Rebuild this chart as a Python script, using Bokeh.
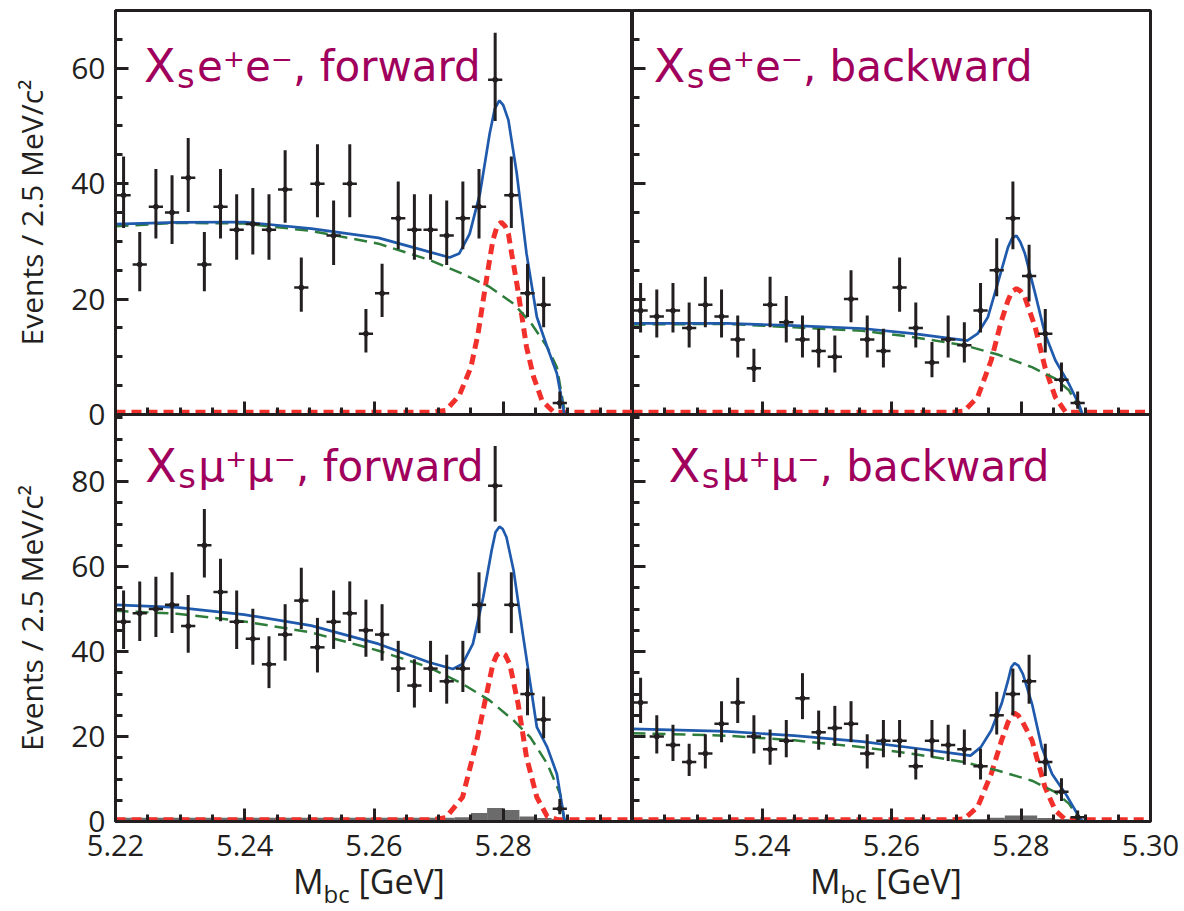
import math
from bokeh.plotting import figure
from bokeh.models import (Range1d, FixedTicker, PrintfTickFormatter,
                          CustomJSTickFormatter, Label, Div)
from bokeh.layouts import row, column
from bokeh.embed import file_html
from bokeh.resources import INLINE

# ---------------- data ----------------
M_BINS = [5.22125, 5.22375, 5.22625, 5.22875, 5.23125, 5.23375, 5.23625,
          5.23875, 5.24125, 5.24375, 5.24625, 5.24875, 5.25125, 5.25375,
          5.25625, 5.25875, 5.26125, 5.26375, 5.26625, 5.26875, 5.27125,
          5.27375, 5.27625, 5.27875, 5.28125, 5.28375, 5.28625, 5.28875]

EE_FWD = [38, 26, 36, 35, 41, 26, 36, 32, 33, 32, 39, 22, 40, 31, 40, 14,
          21, 34, 32, 32, 31, 34, 36, 58, 38, 21, 19, 2]
EE_BWD = [18, 17, 18, 15, 19, 17, 13, 8, 19, 16, 13, 11, 10, 20, 13, 11,
          22, 15, 9, 13, 12, 18, 25, 34, 24, 14, 6, 2]
MM_FWD = [47, 49, 50, 51, 46, 65, 54, 47, 43, 37, 44, 52, 41, 47, 49, 45,
          44, 36, 32, 36, 33, 36, 51, 79, 51, 30, 24, 3]
MM_BWD = [28, 20, 18, 14, 16, 23, 28, 20, 17, 19, 29, 21, 22, 23, 16, 19,
          19, 13, 19, 18, 17, 13, 25, 30, 33, 14, 7, 1]

# total fit (blue)
EE_FWD_TOT_M = [5.2200, 5.2295, 5.2399, 5.2503, 5.2607, 5.2659, 5.2717, 5.2732,
                5.2748, 5.2764, 5.2779, 5.2787, 5.2794, 5.2800, 5.2808, 5.2821,
                5.2836, 5.2852, 5.2868, 5.2883, 5.2894, 5.2896]
EE_FWD_TOT = [33.0, 33.3, 33.35, 32.2, 30.6, 29.0, 27.2, 27.9, 31.3, 38.3,
              48.7, 53.0, 54.4, 53.6, 51.0, 41.7, 27.9, 16.9, 11.7, 7.1, 0.4,
              0.0]
EE_BWD_TOT_M = [5.2200, 5.2346, 5.2450, 5.2555, 5.2634, 5.2717, 5.2733, 5.2749,
                5.2764, 5.2780, 5.2786, 5.2793, 5.2799, 5.2806, 5.2822, 5.2837,
                5.2853, 5.2874, 5.2890, 5.2895]
EE_BWD_TOT = [15.8, 15.8, 15.4, 14.9, 14.0, 12.8, 14.0, 16.9, 22.7, 29.0,
              30.5, 31.0, 29.9, 27.9, 20.9, 14.0, 9.4, 5.3, 1.6, 0.0]
MM_FWD_TOT_M = [5.2200, 5.2295, 5.2399, 5.2503, 5.2607, 5.2685, 5.2722, 5.2737,
                5.2753, 5.2769, 5.2782, 5.2788, 5.2794, 5.2799, 5.2805, 5.2816,
                5.2831, 5.2852, 5.2868, 5.2883, 5.2894, 5.2896]
MM_FWD_TOT = [51.0, 50.4, 48.7, 46.1, 41.8, 37.5, 35.9, 37.1, 41.8, 52.8,
              63.8, 68.1, 69.4, 68.9, 66.9, 59.1, 43.4, 22.2, 17.5, 11.2, 1.0,
              0.0]
MM_BWD_TOT_M = [5.2200, 5.2346, 5.2450, 5.2555, 5.2634, 5.2722, 5.2738, 5.2754,
                5.2770, 5.2780, 5.2785, 5.2790, 5.2796, 5.2803, 5.2817, 5.2832,
                5.2848, 5.2869, 5.2890, 5.2895]
MM_BWD_TOT = [21.8, 21.2, 20.2, 18.8, 17.3, 15.5, 17.5, 21.4, 27.7, 33.2,
              36.3, 37.3, 36.7, 34.7, 27.7, 17.5, 11.2, 6.5, 1.0, 0.0]

# background (green dashed)
EE_FWD_BKG_M = [5.2200, 5.2295, 5.2399, 5.2503, 5.2607, 5.2685, 5.2737, 5.2779,
                5.2816, 5.2842, 5.2868, 5.2883, 5.2892, 5.2896]
EE_FWD_BKG = [32.6, 33.2, 33.1, 31.8, 29.6, 26.8, 24.4, 22.1, 19.2, 16.0,
              11.7, 8.2, 2.4, 0.0]
EE_BWD_BKG_M = [5.2200, 5.2346, 5.2450, 5.2555, 5.2634, 5.2712, 5.2764, 5.2817,
                5.2853, 5.2874, 5.2890, 5.2895]
EE_BWD_BKG = [15.6, 15.7, 15.1, 14.5, 13.4, 12.0, 10.4, 8.2, 6.2, 4.2, 1.0, 0.0]
MM_FWD_BKG_M = [5.2200, 5.2295, 5.2399, 5.2503, 5.2607, 5.2685, 5.2737, 5.2779,
                5.2816, 5.2842, 5.2868, 5.2888, 5.2894, 5.2896]
MM_FWD_BKG = [49.6, 48.9, 47.1, 44.5, 40.2, 36.3, 32.4, 28.5, 23.8, 19.8,
              13.6, 6.5, 0.6, 0.0]
MM_BWD_BKG_M = [5.2200, 5.2346, 5.2450, 5.2555, 5.2634, 5.2712, 5.2764, 5.2817,
                5.2853, 5.2874, 5.2890, 5.2895]
MM_BWD_BKG = [20.8, 20.2, 19.1, 17.5, 15.9, 14.0, 12.0, 9.6, 6.9, 4.2, 0.6, 0.0]

# signal (red dotted)
EE_FWD_SIG_M = [5.2200, 5.2690, 5.2711, 5.2732, 5.2750, 5.2761, 5.2769, 5.2777,
                5.2784, 5.2791, 5.2797, 5.2803, 5.2808, 5.2813, 5.2821, 5.2829,
                5.2836, 5.2847, 5.2860, 5.2878, 5.3000]
EE_FWD_SIG = [0.4, 0.4, 0.7, 3.3, 8.2, 14.0, 19.8, 25.5, 30.2, 32.8, 33.3,
              32.6, 31.3, 27.9, 22.7, 16.9, 11.7, 6.5, 2.4, 0.4, 0.4]
EE_BWD_SIG_M = [5.2200, 5.2695, 5.2712, 5.2733, 5.2754, 5.2770, 5.2780, 5.2786,
                5.2793, 5.2799, 5.2806, 5.2822, 5.2837, 5.2853, 5.2869, 5.3000]
EE_BWD_SIG = [0.4, 0.4, 0.6, 3.0, 9.4, 16.3, 19.8, 21.3, 21.8, 21.4, 20.3,
              15.1, 8.2, 3.0, 0.4, 0.4]
MM_FWD_SIG_M = [5.2200, 5.2690, 5.2711, 5.2737, 5.2758, 5.2771, 5.2784, 5.2790,
                5.2797, 5.2803, 5.2810, 5.2823, 5.2836, 5.2852, 5.2868, 5.2885,
                5.3000]
MM_FWD_SIG = [0.4, 0.4, 0.9, 5.7, 18.3, 27.7, 37.1, 39.2, 39.8, 39.2, 37.1,
              27.7, 15.1, 5.7, 1.2, 0.4, 0.4]
MM_BWD_SIG_M = [5.2200, 5.2695, 5.2712, 5.2733, 5.2754, 5.2770, 5.2780, 5.2785,
                5.2790, 5.2796, 5.2803, 5.2817, 5.2837, 5.2853, 5.2869, 5.3000]
MM_BWD_SIG = [0.4, 0.4, 0.6, 3.4, 11.2, 19.1, 23.4, 24.8, 25.5, 24.9, 23.3,
              19.1, 8.1, 2.6, 0.4, 0.4]

# peaking background histogram (grey), muon channels
MM_FWD_PEAK = [0.9, 0.9, 0.9, 0.9, 0.9, 0.9, 0.9, 0.9, 0.9, 0.9, 0.9, 0.9, 0.9,
               0.9, 0.9, 0.9, 0.9, 0.9, 0.9, 0.9, 0.9, 1.0, 2.0, 3.2, 2.7, 1.2,
               0.8, 0.6]
MM_BWD_PEAK = [0.6, 0.6, 0.6, 0.6, 0.6, 0.6, 0.6, 0.6, 0.6, 0.6, 0.6, 0.6, 0.6,
               0.6, 0.6, 0.6, 0.6, 0.6, 0.6, 0.6, 0.6, 0.6, 0.9, 1.4, 1.4, 0.8,
               0.6, 0.5]

TITLE_X = "X"
TITLE_SUB = "s"
TITLE_REST = ["e⁺e⁻, forward", "e⁺e⁻, backward",
              "μ⁺μ⁻, forward", "μ⁺μ⁻, backward"]
Y_LABEL = "Events / 2.5 MeV/c²"
X_LABEL_HTML = ("M<span style='font-size:24px;position:relative;top:9px'>bc"
                "</span> [GeV]")

X_MAJOR_LEFT = [5.22, 5.24, 5.26, 5.28]
X_MAJOR_RIGHT = [5.24, 5.26, 5.28, 5.30]
X_MINOR = [5.225, 5.23, 5.235, 5.245, 5.25, 5.255, 5.265, 5.27, 5.275,
           5.285, 5.29, 5.295]
Y_TOP_MAJOR = [0, 20, 40, 60]
Y_TOP_MINOR = [5, 10, 15, 25, 30, 35, 45, 50, 55, 65]
Y_BOT_MAJOR = [0, 20, 40, 60, 80]
Y_BOT_MINOR = [5, 10, 15, 25, 30, 35, 45, 50, 55, 65, 70, 75, 85, 90, 95]

# ---------------- style ----------------
FONT = "Open Sans"
TITLE_FONT = "DejaVu Sans"
INK = "#231f20"
BLUE = "#1f5aad"
GREEN = "#2e7d3b"
RED = "#f2302b"
GRAY = "#6b6b6b"
PURPLE = "#a0005c"


def panel(width, height, ymax, bl, br, bt, bb, xmajor, ymajor, yminor,
          xlabels, ylabels):
    p = figure(width=width, height=height, x_range=Range1d(5.22, 5.30),
               y_range=Range1d(0, ymax), output_backend="svg",
               toolbar_location=None, min_border_left=bl, min_border_right=br,
               min_border_top=bt, min_border_bottom=bb)
    p.grid.visible = False
    p.outline_line_color = INK
    p.outline_line_width = 3
    p.outline_line_alpha = 1.0
    xa = p.xaxis[0]
    ya = p.yaxis[0]
    xa.ticker = FixedTicker(ticks=xmajor, minor_ticks=X_MINOR)
    ya.ticker = FixedTicker(ticks=ymajor, minor_ticks=yminor)
    for ax in (xa, ya):
        ax.axis_line_color = INK
        ax.axis_line_width = 3
        ax.major_tick_in = 13
        ax.major_tick_out = 0
        ax.minor_tick_in = 7
        ax.minor_tick_out = 0
        ax.major_tick_line_color = INK
        ax.minor_tick_line_color = INK
        ax.major_tick_line_width = 3
        ax.minor_tick_line_width = 3
        ax.major_label_text_font = FONT
        ax.major_label_text_color = INK
    xa.major_label_text_font_size = "29px"
    ya.major_label_text_font_size = "30px"
    if xlabels:
        xa.formatter = PrintfTickFormatter(format="%.2f")
        xa.major_label_standoff = 13
    else:
        xa.formatter = CustomJSTickFormatter(code="return ''")
        xa.major_label_standoff = 0
    if ylabels:
        ya.major_label_standoff = 10
        ya.axis_label = Y_LABEL
        ya.axis_label_text_font = FONT
        ya.axis_label_text_font_size = "30px"
        ya.axis_label_text_font_style = "normal"
        ya.axis_label_text_color = INK
        ya.axis_label_standoff = 16
    else:
        ya.formatter = CustomJSTickFormatter(code="return ''")
        ya.major_label_standoff = 0
    return p


def draw(p, counts, tot_m, tot, bkg_m, bkg, sig_m, sig, peak=None):
    if peak is not None:
        p.vbar(x=M_BINS, width=0.0025, top=peak, bottom=0,
               fill_color=GRAY, line_color=None)
    p.line(sig_m, sig, line_color=RED, line_width=5, line_dash="10 6")
    p.line(bkg_m, bkg, line_color=GREEN, line_width=2.5, line_dash="13 7")
    p.line(tot_m, tot, line_color=BLUE, line_width=2.7)
    lo = [n - (math.sqrt(n + 0.25) - 0.5) for n in counts]
    hi = [n + math.sqrt(n + 0.25) + 0.5 for n in counts]
    p.segment(M_BINS, lo, M_BINS, hi, line_color=INK, line_width=3)
    p.segment([m - 0.0011 for m in M_BINS], counts,
              [m + 0.0011 for m in M_BINS], counts,
              line_color=INK, line_width=2.5)
    p.scatter(M_BINS, counts, size=5, color=INK)


def title(p, x, y, y_sub, rest):
    p.add_layout(Label(x=x, y=y, text=TITLE_X, text_font=TITLE_FONT,
                       text_font_size="46px", text_color=PURPLE,
                       text_baseline="alphabetic"))
    p.add_layout(Label(x=x, y=y_sub, x_offset=33, text=TITLE_SUB,
                       text_font=TITLE_FONT, text_font_size="34px",
                       text_color=PURPLE, text_baseline="alphabetic"))
    p.add_layout(Label(x=x, y=y, x_offset=53, text=rest, text_font=TITLE_FONT,
                       text_font_size="42px", text_color=PURPLE,
                       text_baseline="alphabetic"))


TOP_MAX = 70
BOT_MAX = 95.8

tl = panel(632, 436, TOP_MAX, 115, 0, 10, 22, X_MAJOR_LEFT, Y_TOP_MAJOR,
           Y_TOP_MINOR, False, True)
tr = panel(522, 436, TOP_MAX, 0, 4, 10, 22, X_MAJOR_RIGHT, Y_TOP_MAJOR,
           Y_TOP_MINOR, False, False)
bl = panel(632, 459, BOT_MAX, 115, 0, 0, 52, X_MAJOR_LEFT, Y_BOT_MAJOR,
           Y_BOT_MINOR, True, True)
br = panel(548, 459, BOT_MAX, 0, 30, 0, 52, X_MAJOR_RIGHT, Y_BOT_MAJOR,
           Y_BOT_MINOR, True, False)
for p in (bl, br):
    p.border_fill_color = None

draw(tl, EE_FWD, EE_FWD_TOT_M, EE_FWD_TOT, EE_FWD_BKG_M, EE_FWD_BKG,
     EE_FWD_SIG_M, EE_FWD_SIG)
draw(tr, EE_BWD, EE_BWD_TOT_M, EE_BWD_TOT, EE_BWD_BKG_M, EE_BWD_BKG,
     EE_BWD_SIG_M, EE_BWD_SIG)
draw(bl, MM_FWD, MM_FWD_TOT_M, MM_FWD_TOT, MM_FWD_BKG_M, MM_FWD_BKG,
     MM_FWD_SIG_M, MM_FWD_SIG, MM_FWD_PEAK)
draw(br, MM_BWD, MM_BWD_TOT_M, MM_BWD_TOT, MM_BWD_BKG_M, MM_BWD_BKG,
     MM_BWD_SIG_M, MM_BWD_SIG, MM_BWD_PEAK)

title(tl, 5.2244, 60.3, 58.6, TITLE_REST[0])
title(tr, 5.2233, 60.3, 58.6, TITLE_REST[1])
title(bl, 5.2246, 83.6, 81.3, TITLE_REST[2])
title(br, 5.2256, 83.6, 81.3, TITLE_REST[3])

DIV_STYLE = {"font-family": FONT, "font-size": "34px", "color": INK,
             "line-height": "34px", "white-space": "nowrap"}
xl_left = Div(text=X_LABEL_HTML, width=200, height=34, margin=(0, 0, 0, 293),
              styles=DIV_STYLE)
xl_right = Div(text=X_LABEL_HTML, width=200, height=34, margin=(0, 0, 0, 317),
               styles=DIV_STYLE)

layout = column(row(tl, tr),
                row(bl, br, margin=(-22, 0, 0, 0)),
                row(xl_left, xl_right, margin=(-9, 0, 0, 0)))

open("out.html", "w").write(file_html(layout, INLINE, "Mbc fits"))
